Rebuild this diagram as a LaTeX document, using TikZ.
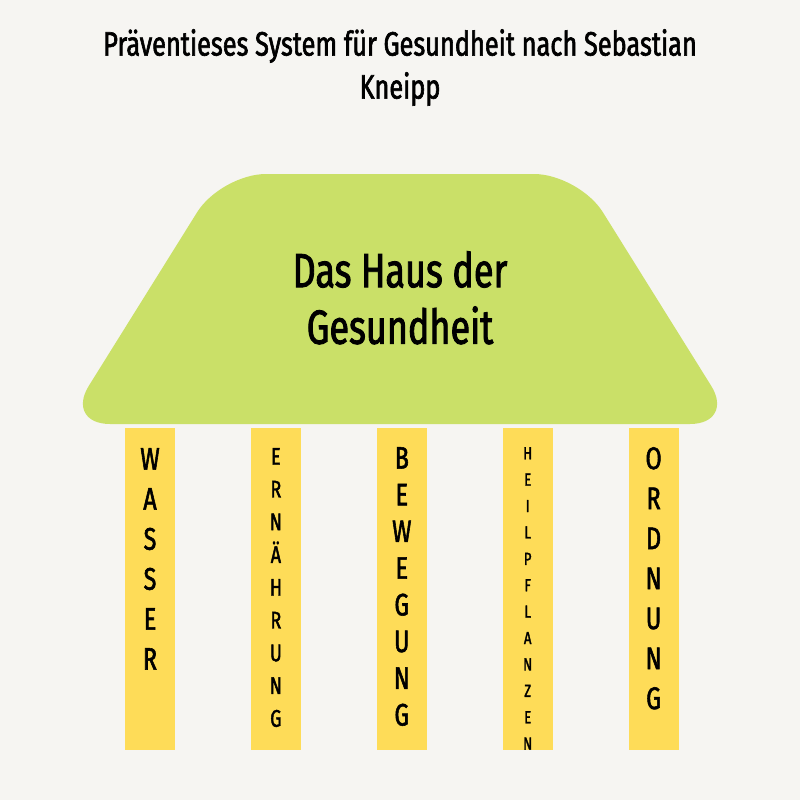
\documentclass[tikz,border=0pt]{standalone}
\usepackage{fontspec}
\newfontfamily\oswald[FakeStretch=0.75,FakeBold=1.8]{Fira Sans}
\usetikzlibrary{positioning}
\definecolor{bgpaper}{RGB}{246,245,242}
\definecolor{roofgreen}{RGB}{202,224,104}
\definecolor{pillaryellow}{RGB}{254,220,88}

\begin{document}
\begin{tikzpicture}[x=1pt, y=-1pt, font=\oswald]
		\tikzset{pillar/.style={fill=pillaryellow,minimum width=50pt,minimum height=322pt,inner sep=0pt,anchor=north}}
		\tikzset{letters/.style={align=center,inner sep=0pt,anchor=north,text=black}}
		
		\fill[bgpaper] (0,0) rectangle (800,800);
		
		\node[letters,font=\oswald\fontsize{33.8}{43}\selectfont] (title) at (400,29) {Präventieses System für Gesundheit nach Sebastian\\Kneipp};
		
		\fill[roofgreen,rounded corners=45pt] (65,424) -- (221,174) -- (579,174) -- (735,424) -- cycle;
		\node[letters,font=\oswald\fontsize{48}{56.6}\selectfont] (haus) at (400,251) {Das Haus der\\Gesundheit};
		
		\node[pillar] (wasser) at (150,428) {};
		\node[pillar,right=75.5pt of wasser] (ernaehrung) {};
		\node[pillar,right=75.5pt of ernaehrung] (bewegung) {};
		\node[pillar,right=75.5pt of bewegung] (heilpflanzen) {};
		\node[pillar,right=75.5pt of heilpflanzen] (ordnung) {};
		
		\node[letters,font=\oswald\fontsize{31.2}{40}\selectfont,below=20pt of wasser.north] {W\\A\\S\\S\\E\\R};
		\node[letters,font=\oswald\fontsize{24}{32.75}\selectfont,below=20pt of ernaehrung.north] {E\\R\\N\\Ä\\H\\R\\U\\N\\G};
		\node[letters,font=\oswald\fontsize{31}{36.7}\selectfont,below=19pt of bewegung.north] {B\\E\\W\\E\\G\\U\\N\\G};
		\node[letters,font=\oswald\fontsize{17.5}{26.4}\selectfont,below=19pt of heilpflanzen.north] {H\\E\\I\\L\\P\\F\\L\\A\\N\\Z\\E\\N};
		\node[letters,font=\oswald\fontsize{31.2}{40}\selectfont,below=19pt of ordnung.north] {O\\R\\D\\N\\U\\N\\G};
	\end{tikzpicture}
\end{document}
